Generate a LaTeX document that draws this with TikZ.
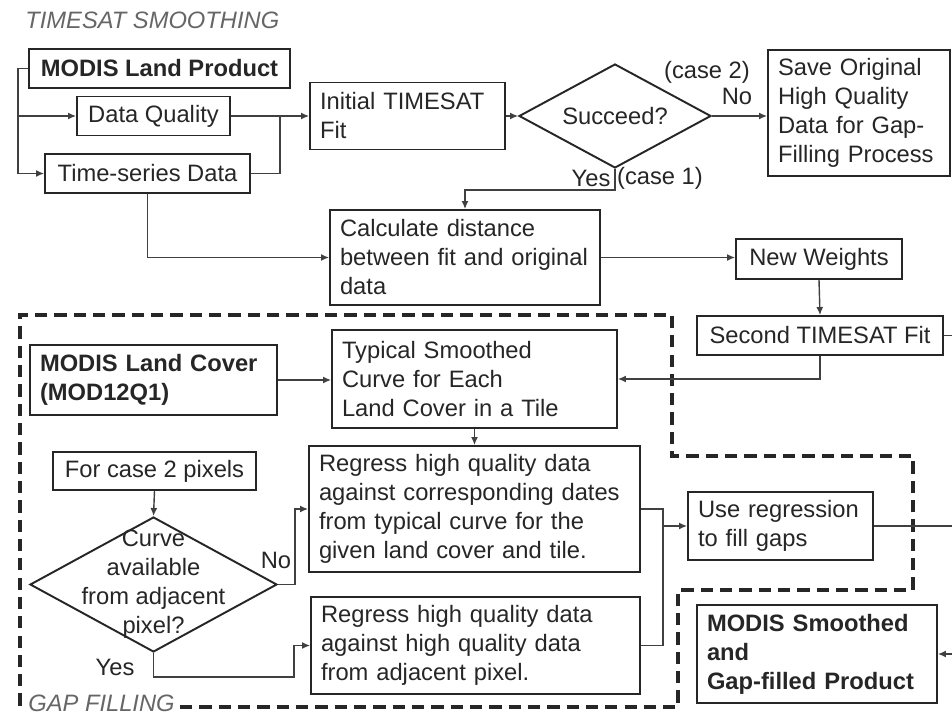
\documentclass[tikz,border=0pt]{standalone}
\usepackage{fontspec}
\setmainfont{Liberation Sans}
\usetikzlibrary{calc,shapes,arrows.meta,positioning}

\tikzset{
  box/.style={rectangle,draw=black!85,line width=1.1pt,inner xsep=0.2cm,inner ysep=0pt,
    font=\fontsize{13.5}{16.5}\selectfont,text=black!85},
  lbox/.style={box,align=left},
  bbox/.style={lbox,font=\fontsize{13.5}{16.5}\selectfont\bfseries},
  dia/.style={diamond,draw=black!85,line width=1.1pt,inner sep=0pt,aspect=1.85,
    font=\fontsize{13.5}{16.5}\selectfont,text=black!85},
  txt/.style={inner sep=0pt,font=\fontsize{13.5}{16.5}\selectfont,text=black!85},
  ttl/.style={txt,font=\fontsize{13.5}{16.5}\selectfont\itshape,text=black!60},
  line/.style={draw=black!75,line width=0.8pt},
  arr/.style={line,-{Latex[length=1.6mm,width=1.4mm]}},
  gap/.style={draw=black!85,line width=1.9pt,dash pattern=on 7pt off 4pt}
}

\begin{document}
\begin{tikzpicture}[x=0.02cm,y=-0.02cm]
        \fill[white] (0,0) rectangle (952,715);
        \useasboundingbox (0,0) rectangle (952,715);

        %nodes
        \node[box,font=\fontsize{13.5}{16.5}\selectfont\bfseries,minimum width=5.22cm,minimum height=0.78cm] (prod) at (159.5,68.5) {MODIS Land Product};
        \node[box,minimum width=3.06cm,minimum height=0.78cm] (dq) at (153.5,116) {Data Quality};
        \node[box,minimum width=4.1cm,minimum height=0.78cm] (ts) at (147.5,173.5) {Time-series Data};
        \node[lbox,text width=3.5cm,minimum height=1.34cm] (init) at (407.5,116) {Initial TIMESAT\\Fit};
        \node[dia,minimum width=3.84cm,minimum height=2.08cm] (succ) at (615,116) {Succeed?};
        \node[lbox,text width=3.24cm,minimum height=2.52cm] (save) at (859,113) {Save Original\\High Quality\\Data for Gap-\\Filling Process};
        \node[lbox,text width=5.0cm,minimum height=1.9cm] (calc) at (465,257.5) {Calculate distance\\between fit and original\\data};
        \node[box,minimum width=3.32cm,minimum height=0.8cm] (nw) at (819,259) {New Weights};
        \node[box,minimum width=4.92cm,minimum height=0.78cm] (fit2) at (820,335.5) {Second TIMESAT Fit};

        \node[bbox,text width=4.54cm,minimum height=1.4cm] (lc) at (153.5,380) {MODIS Land Cover\\(MOD12Q1)};
        \node[lbox,text width=5.3cm,minimum height=1.96cm] (typ) at (474.5,379) {Typical Smoothed\\Curve for Each\\Land Cover in a Tile};
        \node[box,minimum width=4.06cm,minimum height=0.76cm] (case2) at (154.5,471) {For case 2 pixels};
        \node[dia,minimum width=4.94cm,minimum height=2.7cm] (curve) at (153.5,584.5) {};
        \node[txt,align=center] (curvetxt) at (curve.center) {Curve\\available\\from adjacent\\pixel?};
        \node[lbox,text width=6.22cm,minimum height=2.52cm] (reg1) at (474.5,509) {Regress high quality data\\against corresponding dates\\from typical curve for the\\given land cover and tile.};
        \node[lbox,text width=6.18cm,minimum height=1.94cm] (reg2) at (475.5,645.5) {Regress high quality data\\against high quality data\\from adjacent pixel.};
        \node[lbox,text width=3.3cm,minimum height=1.36cm] (use) at (780.5,526) {Use regression\\to fill gaps};
        \node[bbox,text width=4.4cm,minimum height=1.96cm] (sm) at (817,654) {MODIS Smoothed\\and\\Gap-filled Product};

        %labels
        \node[ttl,anchor=west] (smooth) at (25,20) {TIMESAT SMOOTHING};
        \node[ttl,anchor=west] (gapf) at (28,703) {GAP FILLING};
        \node[txt] (c2) at (707,72) {(case 2)};
        \node[txt] (no1) at (737,96) {No};
        \node[txt] (yes1) at (591,178) {Yes};
        \node[txt] (c1) at (660,178) {(case 1)};
        \node[txt] (no2) at (276,560) {No};
        \node[txt] (yes2) at (115,667) {Yes};

        %gap filling frame
        \draw[gap] (180,707) -- (678,707) -- (678,590) -- (913,590) -- (913,456)
          -- (672,456) -- (672,315) -- (20,315) -- (20,712);

        %connectors
        \coordinate (jn) at (280,116);
        \coordinate (mg) at (663,526);
        \coordinate (eR1) at (952,335.5);
        \coordinate (eR2) at (952,526);
        \coordinate (eR3) at (952,654);

        \draw[arr] (prod.west) -- ++(-10,0) |- (ts.west);
        \draw[arr] (prod.west) ++(-10,0) |- (dq.west);
        \draw[arr] (dq.east) -- (init.west);
        \draw[line] (ts.east) -| (jn);
        \draw[arr] (init.east) -- (succ.west);
        \draw[arr] (succ.east) -- (succ.east -| save.west);
        \draw[arr] (succ.south) -- ++(0,21) -| (calc.north);
        \draw[arr] (ts.south) |- (calc.west);
        \draw[arr] (calc.east) -- (calc.east -| nw.west);
        \draw[arr] (nw.south) -- (fit2.north);
        \draw[line] (fit2.east) -- (eR1);
        \draw[arr] (fit2.south) |- (typ.east);
        \draw[arr] (lc.east) -- (lc.east -| typ.west);
        \draw[arr] (typ.south) -- (reg1.north);
        \draw[arr] (case2.south) -- (curve.north);
        \draw[arr] (curve.east) -- ++(17,0) |- (reg1.west);
        \draw[arr] (curve.south) -- ++(0,24) -| ($(reg2.west)+(-16,0)$) -- (reg2.west);
        \draw[line] (reg1.east) -| (mg);
        \draw[line] (reg2.east) -| (mg);
        \draw[arr] (mg) -- (use.west);
        \draw[line] (use.east) -- (eR2);
        \draw[arr] (eR3) -- (sm.east);
\end{tikzpicture}
\end{document}
